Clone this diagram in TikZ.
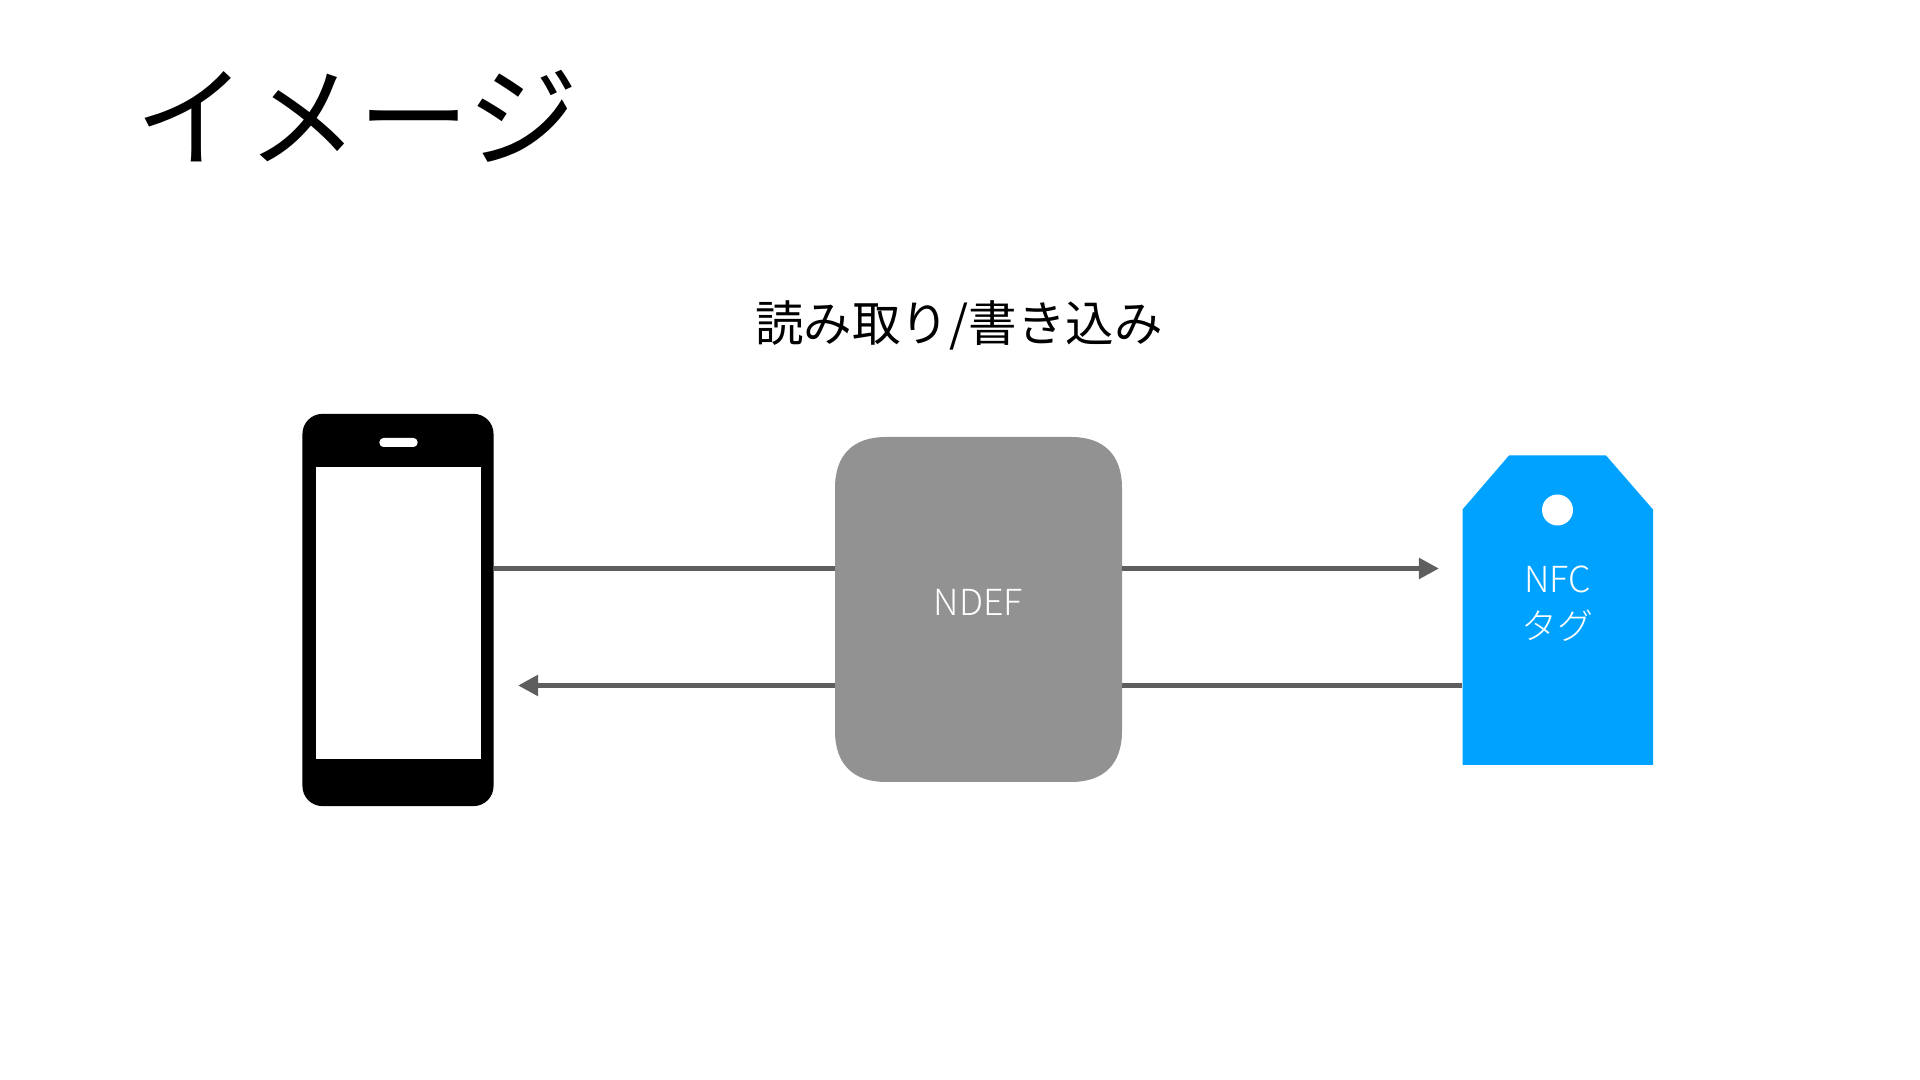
\documentclass[tikz,border=0pt]{standalone}
\usepackage{fontspec}
\setmainfont{Noto Sans CJK JP}
\newfontfamily\lightfont{Noto Sans CJK JP Light}
\usepackage{xcolor}
\usetikzlibrary{arrows.meta}
\definecolor{tagblue}{HTML}{00A2FF}
\definecolor{boxgray}{HTML}{929292}
\definecolor{linkgray}{HTML}{5E5E5E}
\tikzset{
  every node/.style={outer sep=0pt, inner sep=0pt},
  link/.style={linkgray, line width=0.05cm},
  linkarrow/.style={link, -{Triangle[length=0.2cm, width=0.2cm]}},
  labelwhite/.style={text=white, font=\lightfont\fontsize{10.2pt}{13.3pt}\selectfont, align=center},
}

\begin{document}
\begin{tikzpicture}[x=0.01cm, y=-0.01cm]
  \useasboundingbox (0,0) rectangle (1920,1080);
  \node[anchor=west, font=\fontsize{31.6pt}{34pt}\selectfont] (title) at (136,116) {イメージ};
  \node[font=\fontsize{13.8pt}{16pt}\selectfont] (caption) at (959,325) {読み取り/書き込み};

  \coordinate (wr) at (0,568.5);
  \coordinate (rd) at (0,685.5);
  \coordinate (wrend) at (1439,568.5);
  \coordinate (rdend) at (518,685.5);

  % phone
  \node[fill=black, rounded corners=0.2cm, minimum width=1.91cm, minimum height=3.92cm] (phone) at (398,610) {};
  \node[fill=white, minimum width=1.64cm, minimum height=2.92cm] (screen) at (398.5,613) {};
  \node[fill=white, rounded corners=0.04cm, minimum width=0.38cm, minimum height=0.09cm] (speaker) at (398.5,442.5) {};

  % gray box
  \fill[boxgray] (886,437) -- (1071,437) .. controls (1104,437) and (1122,455) .. (1122,488)
    -- (1122,731) .. controls (1122,764) and (1104,782) .. (1071,782)
    -- (886,782) .. controls (853,782) and (835,764) .. (835,731)
    -- (835,488) .. controls (835,455) and (853,437) .. cycle;
  \node[labelwhite, minimum width=2.87cm] (ndef) at (978.5,602.5) {NDEF};

  % tag
  \fill[tagblue] (1462.5,509.5) -- (1509,455.5) -- (1606,455.5) -- (1653,509.5) -- (1653,765) -- (1462.5,765) -- cycle;
  \fill[white] (1557.5,510) circle (15.5);
  \node[labelwhite, minimum width=1.905cm] (tag) at (1557.75,603.5) {NFC\\タグ};

  \draw[link] (phone.east |- wr) -- (ndef.west |- wr);
  \draw[linkarrow] (ndef.east |- wr) -- (wrend);
  \draw[link] (tag.west |- rd) -- (ndef.east |- rd);
  \draw[linkarrow] (ndef.west |- rd) -- (rdend);
\end{tikzpicture}
\end{document}
